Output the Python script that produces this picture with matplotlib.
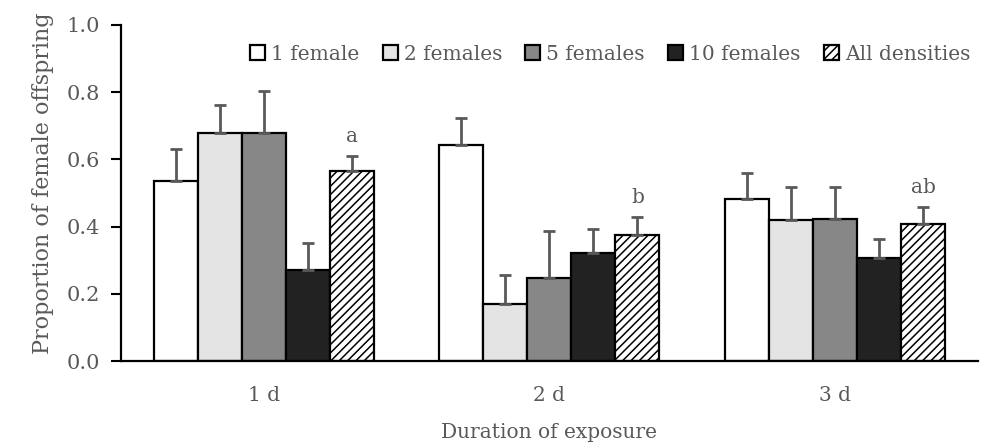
import matplotlib
matplotlib.use("Agg")
import matplotlib.pyplot as plt
import numpy as np

categories = ["1 d", "2 d", "3 d"]
series = ["1 female", "2 females", "5 females", "10 females", "All densities"]
means = {
    "1 female":      [0.535, 0.643, 0.481],
    "2 females":     [0.677, 0.171, 0.419],
    "5 females":     [0.677, 0.247, 0.423],
    "10 females":    [0.272, 0.320, 0.306],
    "All densities": [0.566, 0.374, 0.409],
}
err_tops = {
    "1 female":      [0.631, 0.722, 0.558],
    "2 females":     [0.762, 0.257, 0.518],
    "5 females":     [0.803, 0.386, 0.518],
    "10 females":    [0.352, 0.394, 0.362],
    "All densities": [0.610, 0.427, 0.459],
}
letters = ["a", "b", "ab"]

colors = ["#ffffff", "#e4e4e4", "#878787", "#222222", "#ffffff"]
hatches = [None, None, None, None, "////"]

plt.rcParams['font.family'] = ['DejaVu Serif']
plt.rcParams['hatch.linewidth'] = 1.1
grey = "#595959"
fs = 14.5

fig = plt.figure(figsize=(9.82, 4.43), dpi=100)
ax = fig.add_axes([0.123, 0.185, 0.873, 0.759])

x = np.arange(len(categories))
w = 0.154
for i, s in enumerate(series):
    pos = x + (i - 2) * w
    m = np.array(means[s])
    e = np.array(err_tops[s]) - m
    ax.bar(pos, m, width=w, color=colors[i], edgecolor="black", linewidth=1.6,
           hatch=hatches[i], label=s, zorder=2)
    ax.errorbar(pos, m, yerr=[np.zeros_like(e), e], fmt="none", ecolor=grey,
                elinewidth=2.0, capsize=4.5, capthick=2.0, zorder=3)
    if s == "All densities":
        for j in range(len(categories)):
            ax.text(pos[j], err_tops[s][j] + 0.03, letters[j], ha="center", va="bottom",
                    fontsize=fs, color=grey)

ax.set_xlim(-0.5, 2.5)
ax.set_ylim(0, 1.0)
ax.set_yticks(np.arange(0, 1.01, 0.2))
ax.set_yticklabels([f"{v:.1f}" for v in np.arange(0, 1.01, 0.2)])
ax.set_xticks(x)
ax.set_xticklabels(categories)
ax.tick_params(axis="y", direction="out", length=7, width=1.5, colors="black",
               labelcolor=grey, labelsize=15, pad=8)
ax.tick_params(axis="x", length=0, labelcolor=grey, labelsize=fs, pad=18)
for sp in ["top", "right"]:
    ax.spines[sp].set_visible(False)
ax.spines["left"].set_linewidth(1.6)
ax.spines["bottom"].set_linewidth(1.6)

ax.set_ylabel("Proportion of female offspring", color=grey, fontsize=16, labelpad=9, y=0.53)
ax.set_xlabel("Duration of exposure", color=grey, fontsize=fs, labelpad=13)

leg = ax.legend(ncol=5, loc="upper right", bbox_to_anchor=(1.012, 0.995), frameon=False,
                handlelength=0.75, handleheight=0.75, handletextpad=0.3,
                columnspacing=1.15, fontsize=fs)
for t in leg.get_texts():
    t.set_color(grey)

fig.savefig("out.png", dpi=100)
